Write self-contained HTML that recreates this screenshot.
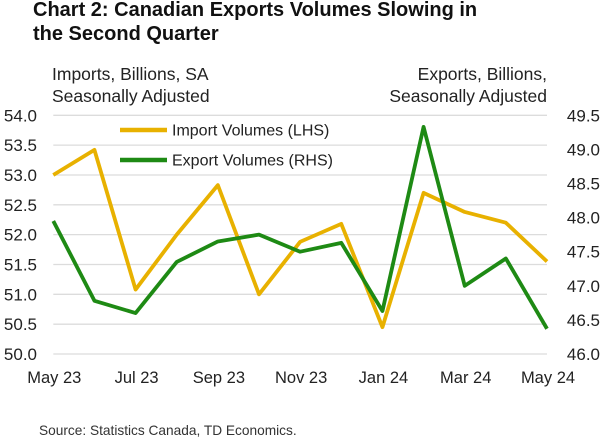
<!DOCTYPE html>
<html><head><meta charset="utf-8"><style>
body{margin:0;background:#fff;}
svg{display:block;font-family:"Liberation Sans",sans-serif;}
</style></head><body>
<svg id="chart" width="600" height="438">
<text x="33" y="16" font-size="20" font-weight="bold" fill="#111">Chart 2: Canadian Exports Volumes Slowing in</text>
<text x="33" y="40" font-size="20" font-weight="bold" fill="#111">the Second Quarter</text>
<text x="52" y="80" font-size="17.5" fill="#222">Imports, Billions, SA</text>
<text x="52" y="102" font-size="17.5" fill="#222">Seasonally Adjusted</text>
<text x="547" y="80" font-size="17.5" fill="#222" text-anchor="end">Exports, Billions,</text>
<text x="547" y="102" font-size="17.5" fill="#222" text-anchor="end">Seasonally Adjusted</text>
<g id="grid"></g><g id="series"></g><g id="axes"></g>
<line x1="120" y1="130" x2="167" y2="130" stroke="#e8b100" stroke-width="4.5"/>
<text x="172" y="135.5" font-size="16" fill="#222">Import Volumes (LHS)</text>
<line x1="120" y1="160" x2="167" y2="160" stroke="#1e8a14" stroke-width="4.5"/>
<text x="172" y="165.5" font-size="16" fill="#222">Export Volumes (RHS)</text>
<text x="39" y="435" font-size="13.7" fill="#333">Source: Statistics Canada, TD Economics.</text>
</svg>
<script>
const months=["May 23","Jun 23","Jul 23","Aug 23","Sep 23","Oct 23","Nov 23","Dec 23","Jan 24","Feb 24","Mar 24","Apr 24","May 24"];
const imports=[53.0,53.42,51.08,52.0,52.83,51.0,51.88,52.18,50.45,52.7,52.38,52.2,51.55];
const exportsV=[47.95,46.78,46.6,47.35,47.65,47.75,47.5,47.63,46.63,49.33,47.0,47.4,46.37];
const leftTicks=[50.0,50.5,51.0,51.5,52.0,52.5,53.0,53.5,54.0];
const rightTicks=[46.0,46.5,47.0,47.5,48.0,48.5,49.0,49.5];
const xLabelIdx=[0,2,4,6,8,10,12];
const NS="http://www.w3.org/2000/svg";
const X0=53.3,X1=547,Y0=354,Y1=115.3;
const x=i=>X0+(X1-X0)*i/(months.length-1);
const yL=v=>Y0-(v-50)/(54-50)*(Y0-Y1);
const yR=v=>Y0-(v-46)/(49.5-46)*(Y0-Y1);
function mk(tag,attrs,parent,txt){const e=document.createElementNS(NS,tag);for(const k in attrs)e.setAttribute(k,attrs[k]);if(txt!==undefined)e.textContent=txt;document.getElementById(parent).appendChild(e);return e;}
leftTicks.forEach(v=>{
 const l=mk("line",{x1:X0,x2:X1,y1:yL(v),y2:yL(v),stroke:"#dcdcdc","stroke-width":1.3},"grid");
 
 
 const t=mk("text",{x:37,y:yL(v)+6,"font-size":17,fill:"#222","text-anchor":"end"},"axes",v.toFixed(1));
 
 
});
rightTicks.forEach(v=>{
 const t=mk("text",{x:600,y:yR(v)+6,"font-size":17,fill:"#222","text-anchor":"end"},"axes",v.toFixed(1));
 
 
});
xLabelIdx.forEach(i=>{
 const t=mk("text",{x:x(i)+1,y:383,"font-size":16.5,fill:"#222","text-anchor":"middle"},"axes",months[i]);
 
 
});
const pi=mk("polyline",{points:imports.map((v,i)=>x(i)+","+yL(v)).join(" "),fill:"none",stroke:"#e8b100","stroke-width":3.8,"stroke-linejoin":"round"},"series");


const pe=mk("polyline",{points:exportsV.map((v,i)=>x(i)+","+yR(v)).join(" "),fill:"none",stroke:"#1e8a14","stroke-width":3.8,"stroke-linejoin":"round"},"series");


</script>
</body></html>
